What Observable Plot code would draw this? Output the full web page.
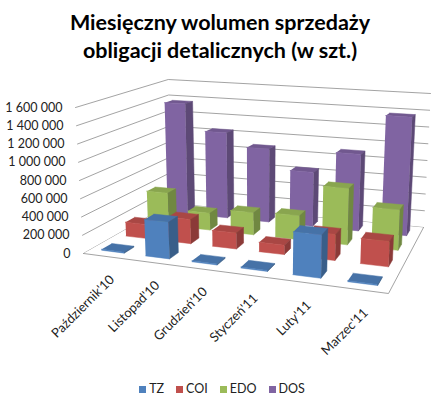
<!DOCTYPE HTML>
<html lang="pl">
  <head>
    <meta charset="UTF-8">
    <title>Miesięczny wolumen sprzedaży obligacji detalicznych</title>
    <style>
      html, body {margin: 0; padding: 0; background: #fff;}
      body {width: 440px; height: 404px; overflow: hidden; font-family: Lato, "Open Sans", sans-serif; color: #000;}
      #title {height: 66px; box-sizing: border-box; padding-top: 8px; text-align: center; font-weight: bold; font-size: 21.5px; line-height: 28px;}
      #chart svg {display: block;}
      #legend {height: 32px; display: flex; justify-content: center; align-items: center; gap: 12px; font-size: 12.5px; color: #222; padding-left: 4px;}
      #legend span.sw {display: inline-block; width: 7px; height: 7px; margin-right: 3px;}
    </style>
  </head>
  <body>
    <div id="title">Miesięczny wolumen sprzedaży<br>obligacji detalicznych (w szt.)</div>
    <div id="chart"></div>
    <div id="legend"></div>
    <script src="https://cdn.jsdelivr.net/npm/d3@7"></script>
    <script src="https://cdn.jsdelivr.net/npm/@observablehq/plot@0.6"></script>
    <script>
      // data
      const months = ["Październik'10", "Listopad'10", "Grudzień'10", "Styczeń'11", "Luty'11", "Marzec'11"];
      const seriesNames = ["TZ", "COI", "EDO", "DOS"];
      const tz = [10000, 390000, 10000, 10000, 430000, 10000];
      const coi = [158000, 267000, 173000, 100000, 273000, 260000];
      const edo = [383000, 195000, 250000, 267000, 620000, 437000];
      const dos = [1360000, 1034000, 873000, 637000, 890000, 1360000];
      const yTicks = [0, 200000, 400000, 600000, 800000, 1000000, 1200000, 1400000, 1600000];
      const colors = ["#4F81BD", "#C0504D", "#9BBB59", "#8064A2"];
      const values = [tz, coi, edo, dos];
      const vMax = 1600000;

      // perspective box: floor corners in page px (front-left, front-right, back-right, back-left)
      const P0 = [83, 253], P1 = [388, 293], P2 = [423, 227], P3 = [171, 203];
      const hFL = 146, hFR = 168, hBR = 134, hBL = 124;
      const vanish = [256, 3418]; // vertical lines lean away from this point
      const barW = 0.52, barD = 0.4;

      // unit square -> floor quad homography
      const dx1 = P1[0] - P2[0], dx2 = P3[0] - P2[0], dx3 = P0[0] - P1[0] + P2[0] - P3[0];
      const dy1 = P1[1] - P2[1], dy2 = P3[1] - P2[1], dy3 = P0[1] - P1[1] + P2[1] - P3[1];
      const den = dx1 * dy2 - dx2 * dy1;
      const g = (dx3 * dy2 - dx2 * dy3) / den, h = (dx1 * dy3 - dx3 * dy1) / den;
      const a = P1[0] - P0[0] + g * P1[0], b = P3[0] - P0[0] + h * P3[0];
      const d = P1[1] - P0[1] + g * P1[1], e = P3[1] - P0[1] + h * P3[1];

      function proj(u, w, v) {
        const q = 1 + g * u + h * w;
        const x0 = (a * u + b * w + P0[0]) / q;
        const y0 = (d * u + e * w + P0[1]) / q;
        const hpx = ((1 - u) * (1 - w) * hFL + u * (1 - w) * hFR + u * w * hBR + (1 - u) * w * hBL) * v / vMax;
        return [x0 + hpx * (x0 - vanish[0]) / (vanish[1] - y0), y0 - hpx];
      }

      const faces = [];
      function face(id, pts, fill) {
        pts.forEach(([u, w, v]) => {
          const [x, y] = proj(u, w, v);
          faces.push({id, x, y, fill});
        });
      }

      // floor
      face("floor", [[0, 0, 0], [1, 0, 0], [1, 1, 0], [0, 1, 0], [0, 0, 0]], "#fff");

      // bars, back row first, left to right
      for (let s = seriesNames.length - 1; s >= 0; s--) {
        const base = d3.color(colors[s]);
        const top = base.darker(0.35).formatHex();
        const side = base.darker(0.9).formatHex();
        values[s].forEach((v, i) => {
          const u0 = (i + 0.5 - barW / 2) / months.length, u1 = (i + 0.5 + barW / 2) / months.length;
          const w0 = (s + 0.5 - barD / 2) / seriesNames.length, w1 = (s + 0.5 + barD / 2) / seriesNames.length;
          const id = `${s}-${i}`;
          face(id + "t", [[u0, w0, v], [u1, w0, v], [u1, w1, v], [u0, w1, v]], top);
          face(id + "f", [[u0, w0, 0], [u1, w0, 0], [u1, w0, v], [u0, w0, v]], base.formatHex());
          face(id + "s", [[u1, w0, 0], [u1, w1, 0], [u1, w1, v], [u1, w0, v]], side);
        });
      }

      // gridlines on the left and back walls
      const grid = [];
      yTicks.forEach(t => {
        [[0, 0], [0, 1], [1, 1]].forEach(([u, w]) => {
          const [x, y] = proj(u, w, t);
          grid.push({t, x, y});
        });
      });
      const floorEdge = [[0, 0], [1, 0], [1, 1]].map(([u, w]) => {
        const [x, y] = proj(u, w, 0);
        return {x, y};
      });

      const fmt = d3.formatLocale({decimal: ",", thousands: " ", grouping: [3], currency: ["", ""]}).format(",d");
      const yLabels = yTicks.map(t => {
        const [x, y] = proj(0, 0, t);
        return {x, y, text: fmt(t)};
      });
      const xLabels = months.map((m, i) => {
        const [x, y] = proj((i + 0.5) / months.length, 0, 0);
        return {x, y, text: m};
      });

      const svg = Plot.plot({
        width: 440,
        height: 306,
        margin: 0,
        x: {type: "linear", domain: [0, 440], range: [0, 440], axis: null},
        y: {type: "linear", domain: [66, 372], range: [0, 306], axis: null},
        color: {type: "identity"},
        style: {fontFamily: "Lato, 'Open Sans', sans-serif", fontSize: "12.5px", background: "#fff", overflow: "visible"},
        marks: [
          Plot.line(grid, {x: "x", y: "y", z: "t", stroke: "#999", strokeWidth: 0.9}),
          Plot.line(faces.filter(d => d.id === "floor"), {x: "x", y: "y", z: "id", fill: "fill", stroke: null}),
          Plot.line(floorEdge, {x: "x", y: "y", stroke: "#999", strokeWidth: 0.9}),
          Plot.line(faces.filter(d => d.id !== "floor"), {x: "x", y: "y", z: "id", fill: "fill", stroke: "fill", strokeWidth: 0.5, strokeLinejoin: "round"}),
          Plot.text(yLabels, {x: "x", y: "y", text: "text", textAnchor: "end", dx: -13, fill: "#222"}),
          Plot.text(xLabels, {x: "x", y: "y", text: "text", textAnchor: "end", rotate: -45, dx: 7, dy: 21, fill: "#222", fontSize: 13})
        ]
      });
      document.getElementById("chart").append(svg);

      const legend = document.getElementById("legend");
      seriesNames.forEach((name, s) => {
        const item = document.createElement("span");
        item.innerHTML = `<span class="sw" style="background:${colors[s]}"></span>${name}`;
        legend.append(item);
      });
    </script>
  </body>
</html>
